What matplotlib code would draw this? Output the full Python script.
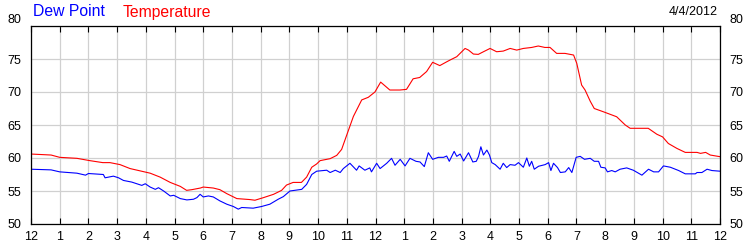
import matplotlib
matplotlib.use('Agg')
import matplotlib.pyplot as plt

plt.rcParams['font.family'] = ['Liberation Sans', 'DejaVu Sans']

# hours since midnight, 4/4/2012
temp_hours = [0, 0.7, 1.0, 1.6, 2.05, 2.5, 2.75, 3.1, 3.45, 3.9, 4.15, 4.5, 4.85, 5.2,
              5.42, 5.6, 5.9, 6.0, 6.35, 6.58, 6.82, 7.17, 7.63, 7.8, 8.1, 8.45, 8.73,
              8.9, 9.13, 9.42, 9.6, 9.78, 9.95, 10.07, 10.42, 10.65, 10.82, 11.0, 11.23,
              11.52, 11.75, 11.98, 12.18, 12.5, 12.85, 13.08, 13.31, 13.54, 13.78, 13.99,
              14.24, 14.47, 14.6, 14.83, 15.12, 15.24, 15.41, 15.58, 15.76, 15.99, 16.22,
              16.45, 16.69, 16.92, 17.15, 17.44, 17.67, 17.9, 18.08, 18.31, 18.6, 18.9,
              19.01, 19.18, 19.3, 19.48, 19.62, 19.94, 20.4, 20.7, 20.87, 21.5, 21.8,
              22.0, 22.2, 22.5, 22.79, 23.2, 23.32, 23.5, 23.66, 24.0]
temperature = [60.6, 60.45, 60.1, 59.95, 59.6, 59.3, 59.3, 59.0, 58.4, 57.95, 57.7, 57.1,
               56.3, 55.7, 55.1, 55.2, 55.45, 55.6, 55.45, 55.2, 54.6, 53.85, 53.7, 53.6,
               54.0, 54.5, 55.1, 55.9, 56.3, 56.3, 57.1, 58.6, 59.1, 59.6, 59.9, 60.4,
               61.3, 63.5, 66.3, 68.8, 69.2, 70.0, 71.5, 70.3, 70.3, 70.4, 72.0, 72.2,
               73.1, 74.5, 74.0, 74.55, 74.85, 75.35, 76.6, 76.35, 75.75, 75.7, 76.1,
               76.6, 76.1, 76.2, 76.6, 76.35, 76.6, 76.75, 76.97, 76.75, 76.75, 75.85,
               75.85, 75.6, 74.35, 71.05, 70.3, 68.6, 67.5, 67.0, 66.25, 65.0, 64.5, 64.5,
               63.6, 63.2, 62.2, 61.45, 60.85, 60.85, 60.7, 60.85, 60.45, 60.2]

dew_hours = [0, 0.7, 1.0, 1.6, 1.9, 2.0, 2.52, 2.58, 2.75, 2.87, 3.05, 3.22, 3.51, 3.86,
             3.98, 4.15, 4.33, 4.44, 4.62, 4.85, 4.97, 5.2, 5.43, 5.66, 5.78, 5.89, 6.0,
             6.18, 6.35, 6.58, 6.82, 7.05, 7.22, 7.34, 7.74, 8.03, 8.32, 8.61, 8.79, 9.02,
             9.43, 9.6, 9.78, 9.95, 10.3, 10.42, 10.6, 10.77, 10.88, 11.11, 11.34, 11.43,
             11.63, 11.8, 11.86, 12.04, 12.16, 12.39, 12.56, 12.68, 12.86, 13.03, 13.2,
             13.41, 13.55, 13.7, 13.84, 13.99, 14.19, 14.37, 14.48, 14.57, 14.74, 14.83,
             14.95, 15.07, 15.24, 15.39, 15.51, 15.59, 15.67, 15.76, 15.88, 15.97, 16.05,
             16.17, 16.34, 16.45, 16.57, 16.69, 16.86, 16.98, 17.15, 17.27, 17.36, 17.44,
             17.53, 17.68, 17.91, 18.03, 18.11, 18.2, 18.34, 18.44, 18.61, 18.73, 18.84,
             18.99, 19.13, 19.28, 19.48, 19.62, 19.77, 19.85, 20.0, 20.08, 20.23, 20.35,
             20.52, 20.75, 20.98, 21.28, 21.51, 21.69, 21.86, 22.03, 22.27, 22.56, 22.79,
             23.14, 23.2, 23.37, 23.55, 23.72, 24.0]
dew_point = [58.3, 58.2, 57.9, 57.7, 57.4, 57.65, 57.5, 57.0, 57.15, 57.25, 57.0, 56.6,
             56.35, 55.85, 56.1, 55.6, 55.25, 55.5, 55.0, 54.25, 54.35, 53.85, 53.65,
             53.75, 54.0, 54.5, 54.1, 54.25, 54.1, 53.5, 53.0, 52.65, 52.25, 52.5, 52.4,
             52.65, 53.0, 53.75, 54.15, 55.0, 55.25, 56.0, 57.5, 58.0, 58.15, 57.8, 58.15,
             57.8, 58.4, 59.2, 58.15, 58.8, 58.15, 58.5, 57.9, 59.2, 58.4, 59.2, 59.95,
             58.9, 59.8, 58.8, 59.95, 59.5, 59.4, 58.7, 60.8, 59.8, 60.1, 60.1, 60.3, 59.5,
             61.0, 60.25, 60.6, 59.55, 60.8, 59.4, 59.5, 60.25, 61.7, 60.45, 61.2, 60.45,
             59.3, 59.0, 58.3, 59.2, 58.55, 59.0, 58.9, 59.3, 58.6, 60.0, 58.75, 59.5, 58.3,
             58.75, 59.0, 59.3, 58.1, 59.2, 58.55, 57.8, 57.9, 58.55, 57.8, 60.1, 60.25,
             59.8, 59.95, 59.5, 59.5, 58.6, 58.5, 57.9, 58.1, 57.9, 58.3, 58.5, 58.15, 57.4,
             58.3, 57.9, 57.9, 58.8, 58.6, 58.1, 57.6, 57.6, 57.8, 57.8, 58.3, 58.1, 58.0]

hour_ticks = list(range(25))
hour_labels = ['12', '1', '2', '3', '4', '5', '6', '7', '8', '9', '10', '11',
               '12', '1', '2', '3', '4', '5', '6', '7', '8', '9', '10', '11', '12']
temp_ticks = [50, 55, 60, 65, 70, 75, 80]

fig = plt.figure(figsize=(7.5, 2.5), dpi=100)
ax = fig.add_axes([31 / 750, 1 - 224 / 250, 689 / 750, 198 / 250])

ax.plot(dew_hours, dew_point, color='#0000ff', lw=0.8)
ax.plot(temp_hours, temperature, color='#ff0000', lw=0.8)

ax.set_xlim(0, 24)
ax.set_ylim(50, 80)
ax.set_xticks(hour_ticks)
ax.set_xticklabels(hour_labels)
ax.set_yticks(temp_ticks)
ax.set_yticklabels([str(t) for t in temp_ticks])
ax.grid(True, color='#d0d0d0', lw=0.9)
ax.set_axisbelow(True)

ax.tick_params(axis='x', direction='in', length=4, width=0.8, top=True,
               labelsize=9, pad=5, colors='black')
ax.tick_params(axis='y', length=0, labelsize=9, pad=7, right=True, labelright=True)
for s in ax.spines.values():
    s.set_linewidth(0.9)
    s.set_color('black')

# the top "80" labels sit above the frame
for lab in ax.get_yticklabels(which='both'):
    if lab.get_text() == '80':
        lab.set_va('bottom')
for t in ax.yaxis.get_major_ticks():
    if t.label2.get_text() == '80':
        t.label2.set_va('bottom')

fig.text(33 / 750, 1 - 12 / 250, 'Dew Point', color='#0000ff', fontsize=11.3,
         ha='left', va='center')
fig.text(123 / 750, 1 - 12 / 250, 'Temperature', color='#ff0000', fontsize=11.3,
         ha='left', va='center')
fig.text(718 / 750, 1 - 12 / 250, '4/4/2012', color='black', fontsize=9,
         ha='right', va='center')

fig.savefig('out.png', dpi=100)
